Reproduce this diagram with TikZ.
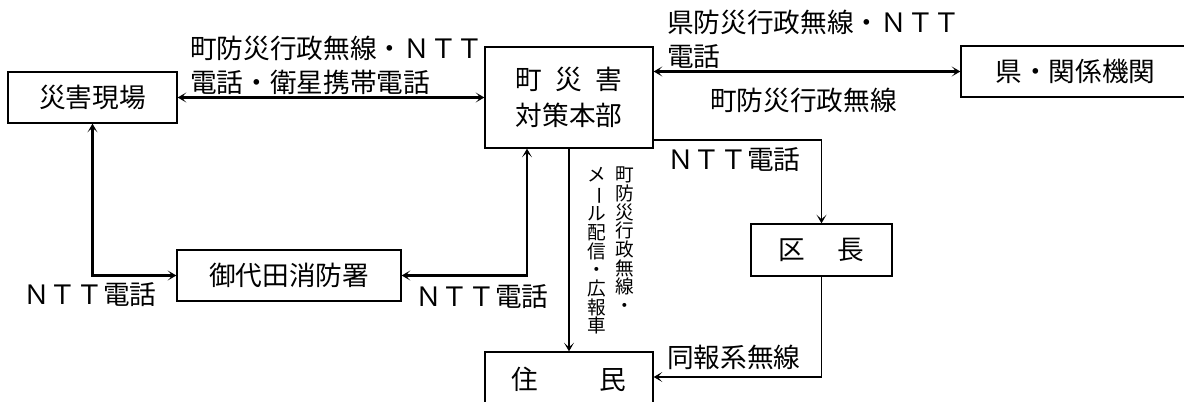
\documentclass[tikz,border=0pt]{standalone}
\usepackage{fontspec}
\usepackage{graphicx}
\setmainfont{Noto Sans CJK JP}
\newcommand{\vcol}[1]{\parbox[t]{18pt}{\centering\fontsize{14pt}{14pt}\selectfont #1}}
\newcommand{\vbar}{\rotatebox[origin=c]{-90}{ー}}
\usetikzlibrary{arrows.meta}
\begin{document}
\begin{tikzpicture}[x=0.75pt,y=-0.75pt,
  >={Stealth[length=6.5pt,width=7.5pt,inset=3.5pt]},
  box/.style={draw,line width=1pt,inner sep=0pt,font=\fontsize{20pt}{27pt}\selectfont},
  lbl/.style={inner sep=0pt,anchor=west,align=left,font=\fontsize{20pt}{25.5pt}\selectfont},
  vlbl/.style={inner sep=0pt,anchor=north},
  conn/.style={line width=1.7pt},
  connb/.style={line width=1.3pt}]
\useasboundingbox (0,0) rectangle (1184,402);
\clip (0,0) rectangle (1184,402);
% boxes
\node[box,minimum width=126.75pt,minimum height=38.25pt] (genba) at (92.5,97.5) {災害現場};
\node[box,minimum width=126pt,minimum height=75.75pt,align=center] (honbu) at (569,97.5) {\makebox[4em][s]{町\hfil 災\hfil 害}\\対策本部};
\node[box,minimum width=171.75pt,minimum height=38.25pt] (ken) at (1075.5,71.5) {県・関係機関};
\node[box,minimum width=168pt,minimum height=38.25pt] (shobo) at (289,275.5) {御代田消防署};
\node[box,minimum width=105.75pt,minimum height=39pt] (kucho) at (821.5,250) {区\hspace{1.2em}長};
\node[box,minimum width=126pt,minimum height=40.5pt] (jumin) at (569,379) {住\hspace{2.3em}民};
% connectors
\coordinate (kk) at (653,140);
\coordinate (jj) at (653,377);
\coordinate (ss) at (527,148);
\draw[connb,->] (honbu.east |- kk) -| (kucho.north);
\draw[connb,->] (kucho.south) |- (jumin.east |- jj);
\draw[conn,<->] (genba) -- (honbu);
\draw[conn,<->] (honbu.east |- ken.west) -- (ken.west);
\draw[conn,->] (honbu.south) -- (jumin.north);
\draw[conn,<->] (shobo.east) -| (honbu.south -| ss);
\draw[conn,<->] (genba.south) |- (shobo.west);
% labels
\node[lbl] (l1) at (190,65) {町防災行政無線・ＮＴＴ\\電話・衛星携帯電話};
\node[lbl] (l2) at (667,39.5) {県防災行政無線・ＮＴＴ\\電話};
\node[lbl] (l3) at (710,100) {町防災行政無線};
\node[lbl] (l4) at (667,160) {ＮＴＴ電話};
\node[lbl] (l5) at (23,295) {ＮＴＴ電話};
\node[lbl] (l6) at (415,297) {ＮＴＴ電話};
\node[lbl] (l7) at (667,357) {同報系無線};
\node[vlbl] (v1) at (625,167) {\vcol{町\\防\\災\\行\\政\\無\\線\\・}};
\node[vlbl] (v2) at (597,167) {\vcol{メ\\\vbar\\ル\\配\\信\\・\\広\\報\\車}};
\end{tikzpicture}
\end{document}
